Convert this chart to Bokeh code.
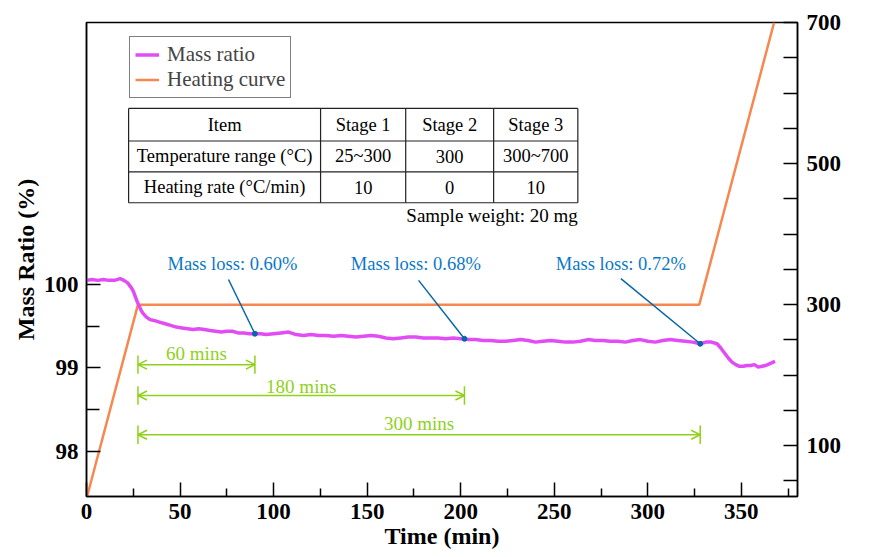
import numpy as np
from bokeh.plotting import figure
from bokeh.models import (Range1d, LinearAxis, FixedTicker, Legend, LegendItem, Label,
                          Arrow, OpenHead, ColumnDataSource)
from bokeh.embed import file_html
from bokeh.resources import INLINE
from bokeh.core.properties import value

# ---------------- data ----------------
time_min = [0, 3, 6, 9, 12, 15, 18, 20, 22, 24, 25, 26, 27, 28, 29, 30, 32, 34, 36, 39,
            42, 45, 48, 51, 54, 57, 60, 63, 66, 69, 72, 75, 78, 81, 84, 87, 90, 93, 96, 100,
            104, 108, 112, 116, 120, 124, 128, 132, 136, 140, 144, 148, 152, 156, 160, 164,
            168, 172, 176, 180, 184, 188, 192, 196, 200, 204, 208, 212, 216, 220, 224, 228,
            232, 236, 240, 244, 248, 252, 256, 260, 264, 268, 272, 276, 280, 284, 288, 292,
            296, 300, 304, 308, 312, 316, 320, 324, 328, 331, 334, 337, 339, 341, 343, 345,
            347, 349, 351, 353, 355, 357, 359, 361, 363, 365, 367, 368]
mass_ratio = [100.05, 100.06, 100.05, 100.06, 100.05, 100.05, 100.07, 100.05, 100.02, 99.96,
              99.92, 99.86, 99.80, 99.75, 99.70, 99.66, 99.61, 99.58, 99.57, 99.55,
              99.53, 99.51, 99.49, 99.48, 99.47, 99.46, 99.47, 99.46, 99.45, 99.44,
              99.43, 99.44, 99.44, 99.42, 99.42, 99.41, 99.41, 99.41, 99.40, 99.41,
              99.42, 99.43, 99.40, 99.39, 99.40, 99.39, 99.39, 99.38, 99.39, 99.38,
              99.37, 99.38, 99.39, 99.38, 99.36, 99.35, 99.36, 99.37, 99.37, 99.36,
              99.36, 99.36, 99.35, 99.36, 99.35, 99.34, 99.34, 99.33, 99.33, 99.32,
              99.32, 99.33, 99.34, 99.33, 99.31, 99.32, 99.33, 99.32, 99.31, 99.31,
              99.32, 99.34, 99.33, 99.33, 99.32, 99.32, 99.31, 99.33, 99.34, 99.32,
              99.31, 99.33, 99.34, 99.33, 99.32, 99.31, 99.29, 99.31, 99.31, 99.29,
              99.24, 99.18, 99.12, 99.07, 99.04, 99.02, 99.02, 99.03, 99.03, 99.04,
              99.01, 99.02, 99.03, 99.05, 99.07, 99.08]

heat_time = [0, 27.5, 327.5, 367.5]
heat_temp = [25, 300, 300, 700]

loss_labels = ["Mass loss: 0.60%", "Mass loss: 0.68%", "Mass loss: 0.72%"]
loss_time = [90, 202, 328]
loss_mass = [99.41, 99.35, 99.29]

span_labels = ["60 mins", "180 mins", "300 mins"]
span_start = [27.5, 27.5, 27.5]
span_end = [90, 202, 328]

x_ticks = [0, 50, 100, 150, 200, 250, 300, 350]
x_minor = [25, 75, 125, 175, 225, 275, 325, 375]
mass_ticks = [98, 99, 100]
mass_minor = [98.5, 99.5]
temp_ticks = [100, 300, 500, 700]
temp_minor = [50, 150, 200, 250, 350, 400, 450, 550, 600, 650]

table_header = ["Item", "Stage 1", "Stage 2", "Stage 3"]
table_temp_row = ["Temperature range (°C)", "25~300", "300", "300~700"]
table_rate_row = ["Heating rate (°C/min)", "10", "0", "10"]
sample_note = "Sample weight: 20 mg"

x_title = "Time (min)"
y_title = "Mass Ratio (%)"
y2_title = "Temperature (°C)"

# ---------------- style ----------------
FONT = "Liberation Serif"
MAGENTA = "#e24cf5"
ORANGE = "#f7874f"
BLUE = "#0a78c8"
BLUE_LINE = "#0766a8"
GREEN = "#8fd11a"

p = figure(width=873, height=557, output_backend="svg", toolbar_location=None,
           x_range=Range1d(0, 380), y_range=Range1d(97.46, 103.14),
           min_border_left=86, min_border_right=76, min_border_top=22, min_border_bottom=61)
p.extra_y_ranges = {"temp": Range1d(28, 700)}
p.xgrid.visible = False
p.ygrid.visible = False
p.outline_line_color = "black"
p.outline_line_width = 1.5
p.background_fill_color = "white"
p.border_fill_color = "white"

right = LinearAxis(y_range_name="temp")
p.add_layout(right, "right")

p.xaxis.ticker = FixedTicker(ticks=x_ticks, minor_ticks=x_minor)
p.yaxis[0].ticker = FixedTicker(ticks=mass_ticks, minor_ticks=mass_minor)
right.ticker = FixedTicker(ticks=temp_ticks, minor_ticks=temp_minor)

p.yaxis[0].axis_label = y_title
p.xaxis[0].axis_label = x_title

for ax in [p.xaxis[0], p.yaxis[0], right]:
    ax.axis_line_width = 1.5
    ax.axis_line_color = "black"
    ax.major_tick_line_width = 1.5
    ax.minor_tick_line_width = 1.5
    ax.major_tick_in = 14
    ax.major_tick_out = 0
    ax.minor_tick_in = 8
    ax.minor_tick_out = 0
    ax.major_label_standoff = 9
    ax.major_label_text_font = FONT
    ax.major_label_text_font_style = "bold"
    ax.major_label_text_font_size = "23px"
    ax.major_label_text_color = "black"
    ax.axis_label_text_font = FONT
    ax.axis_label_text_font_style = "bold"
    ax.axis_label_text_font_size = "24px"
    ax.axis_label_text_color = "black"
    ax.axis_label_standoff = 2
p.yaxis[0].major_label_standoff = 8
p.xaxis[0].major_label_standoff = 7
p.xaxis[0].axis_label_standoff = 1
p.yaxis[0].minor_tick_in = 13
right.minor_tick_in = 14

# ---------------- data marks ----------------
heat_r = p.line(heat_time, heat_temp, y_range_name="temp", line_color=ORANGE, line_width=2.5)
mass_r = p.line(time_min, mass_ratio, line_color=MAGENTA, line_width=3.5)

# leader lines and dots for mass loss notes
lbl_x = [78, 176, 285.6]
lbl_y = [100.25, 100.25, 100.25]
lead_x = [75.9, 177.5, 285.6]
lead_y = [100.06, 100.05, 100.07]
p.segment(x0=lead_x, y0=lead_y, x1=loss_time, y1=loss_mass, line_color=BLUE_LINE, line_width=1.5)
p.scatter(loss_time, loss_mass, size=5, color=BLUE_LINE)
p.text(x=lbl_x, y=lbl_y, text=loss_labels, text_align="center", text_baseline="middle",
       text_font=value(FONT), text_font_size=value("18.5px"), text_color=BLUE)

# duration arrows
arrow_y = [99.04, 98.67, 98.20]
label_y = [99.17, 98.78, 98.34]
mid_x = [(a + b) / 2 for a, b in zip(span_start, span_end)]
asrc = ColumnDataSource(dict(x0=span_start, x1=span_end, y=arrow_y))
p.add_layout(Arrow(start=OpenHead(size=9, line_color=GREEN, line_width=1.5),
                   end=OpenHead(size=9, line_color=GREEN, line_width=1.5),
                   x_start="x0", y_start="y", x_end="x1", y_end="y", source=asrc,
                   line_color=GREEN, line_width=1.5))
bar = 0.11
p.segment(x0=span_start, y0=[y - bar for y in arrow_y], x1=span_start, y1=[y + bar for y in arrow_y],
          line_color=GREEN, line_width=1.5)
p.segment(x0=span_end, y0=[y - bar for y in arrow_y], x1=span_end, y1=[y + bar for y in arrow_y],
          line_color=GREEN, line_width=1.5)
p.text(x=mid_x, y=label_y, text=span_labels, text_align="center", text_baseline="middle",
       text_font=value(FONT), text_font_size=value("19px"), text_color=GREEN)

# ---------------- table ----------------
col_edges = [22.5, 125.1, 170.6, 217.6, 262.6]
row_edges = [102.11, 101.72, 101.35, 100.98]
p.quad(left=col_edges[0], right=col_edges[-1], bottom=row_edges[-1], top=row_edges[0],
       fill_color="white", line_color=None)
p.segment(x0=[col_edges[0]] * 4, x1=[col_edges[-1]] * 4, y0=row_edges, y1=row_edges,
          line_color="#222222", line_width=1.2)
p.segment(x0=col_edges, x1=col_edges, y0=[row_edges[0]] * 5, y1=[row_edges[-1]] * 5,
          line_color="#222222", line_width=1.2)
cx = [(col_edges[i] + col_edges[i + 1]) / 2 for i in range(4)]
rows = [table_header, table_temp_row, table_rate_row]
tx, ty, tt = [], [], []
for r, row in enumerate(rows):
    yc = (row_edges[r] + row_edges[r + 1]) / 2
    for c, txt in enumerate(row):
        tx.append(cx[c]); ty.append(yc); tt.append(txt)
p.text(x=tx, y=ty, text=tt, text_align="center", text_baseline="middle",
       text_font=value(FONT), text_font_size=value("18.5px"), text_color="black")
p.add_layout(Label(x=col_edges[-1], y=100.83, text=sample_note, text_align="right",
                   text_baseline="middle", text_font=FONT, text_font_size="19px",
                   text_color="black"))

# right axis title (reads bottom-to-top)
p.add_layout(Label(x=412.6, y=100.05, text=y2_title, angle=np.pi / 2,
                   text_align="center", text_baseline="middle", text_font=FONT,
                   text_font_style="bold", text_font_size="24px", text_color="black"))

# ---------------- legend ----------------
legend = Legend(items=[LegendItem(label="Mass ratio", renderers=[mass_r]),
                       LegendItem(label="Heating curve", renderers=[heat_r])],
                location=(43, 398), margin=0, padding=5, spacing=0,
                glyph_width=24, glyph_height=25, label_height=25, label_standoff=8,
                label_text_font=FONT, label_text_font_size="21px",
                border_line_color="black", border_line_width=1.5,
                background_fill_color="white", background_fill_alpha=1)
p.add_layout(legend)

open("out.html", "w").write(file_html(p, INLINE))
